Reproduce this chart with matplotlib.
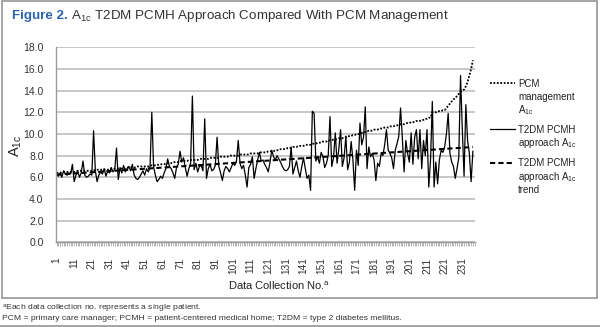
import matplotlib
matplotlib.use("Agg")
import matplotlib.pyplot as plt
import numpy as np
from matplotlib.lines import Line2D
from matplotlib.patches import Rectangle
from matplotlib.ticker import FormatStrFormatter, MultipleLocator

plt.rcParams['font.family'] = ['Liberation Sans', 'DejaVu Sans']
plt.rcParams['mathtext.fontset'] = 'custom'
plt.rcParams['mathtext.rm'] = 'Liberation Sans'
plt.rcParams['mathtext.it'] = 'Liberation Sans:italic'
plt.rcParams['mathtext.bf'] = 'Liberation Sans:bold'

# PCM management A1c (sorted, dotted line)
pcm = [
    6.4, 6.4, 6.4, 6.5, 6.5, 6.5, 6.5, 6.5, 6.5, 6.5,
    6.5, 6.5, 6.6, 6.6, 6.6, 6.6, 6.6, 6.6, 6.6, 6.6,
    6.6, 6.6, 6.7, 6.7, 6.7, 6.7, 6.7, 6.7, 6.7, 6.7,
    6.7, 6.8, 6.8, 6.8, 6.8, 6.8, 6.8, 6.8, 6.8, 6.8,
    6.9, 6.9, 6.9, 6.9, 6.9, 6.9, 7.0, 7.0, 7.0, 7.0,
    7.0, 7.0, 7.0, 7.1, 7.1, 7.1, 7.1, 7.1, 7.2, 7.2,
    7.2, 7.2, 7.3, 7.3, 7.3, 7.3, 7.4, 7.4, 7.4, 7.4,
    7.5, 7.5, 7.5, 7.5, 7.5, 7.6, 7.6, 7.6, 7.6, 7.6,
    7.6, 7.7, 7.7, 7.7, 7.7, 7.7, 7.7, 7.8, 7.8, 7.8,
    7.8, 7.8, 7.8, 7.9, 7.9, 7.9, 7.9, 7.9, 8.0, 8.0,
    8.0, 8.0, 8.0, 8.0, 8.1, 8.1, 8.1, 8.1, 8.1, 8.1,
    8.2, 8.2, 8.2, 8.2, 8.2, 8.3, 8.3, 8.3, 8.3, 8.3,
    8.4, 8.4, 8.4, 8.4, 8.5, 8.5, 8.5, 8.6, 8.6, 8.6,
    8.6, 8.7, 8.7, 8.7, 8.8, 8.8, 8.8, 8.9, 8.9, 8.9,
    8.9, 9.0, 9.0, 9.0, 9.0, 9.1, 9.1, 9.1, 9.2, 9.2,
    9.2, 9.3, 9.3, 9.3, 9.4, 9.4, 9.4, 9.5, 9.5, 9.5,
    9.6, 9.6, 9.6, 9.7, 9.7, 9.8, 9.8, 9.8, 9.9, 9.9,
    10.0, 10.0, 10.0, 10.1, 10.1, 10.2, 10.2, 10.3, 10.3, 10.3,
    10.4, 10.4, 10.4, 10.5, 10.5, 10.5, 10.6, 10.6, 10.6, 10.7,
    10.7, 10.7, 10.8, 10.8, 10.8, 10.9, 10.9, 10.9, 11.0, 11.0,
    11.0, 11.1, 11.1, 11.1, 11.2, 11.2, 11.2, 11.3, 11.3, 11.4,
    11.4, 11.5, 11.5, 12.0, 12.0, 12.0, 12.1, 12.1, 12.1, 12.2,
    12.2, 12.4, 12.6, 12.8, 13.0, 13.2, 13.3, 13.5, 13.7, 13.9,
    14.0, 14.1, 14.4, 14.8, 15.4, 16.0, 16.8,
]

# T2DM PCMH approach A1c (solid line)
t2dm = [
    6.5, 6.1, 6.4, 6.0, 6.6, 6.3, 6.2, 6.4, 6.3, 7.2,
    5.6, 6.2, 6.6, 6.0, 6.4, 7.5, 6.2, 6.0, 6.1, 6.3,
    6.2, 10.3, 6.6, 5.6, 6.2, 6.5, 6.3, 6.8, 6.1, 6.6,
    6.4, 6.9, 6.5, 6.7, 8.7, 5.8, 6.9, 6.4, 7.1, 6.5,
    6.8, 7.0, 6.6, 7.2, 6.2, 5.9, 5.8, 6.0, 6.3, 6.6,
    6.2, 6.8, 6.5, 6.9, 12.0, 7.0, 6.2, 5.6, 5.8, 6.1,
    5.9, 6.4, 6.8, 7.7, 7.0, 6.8, 6.4, 5.9, 6.9, 7.2,
    8.4, 7.4, 7.8, 6.9, 6.1, 6.8, 7.3, 13.5, 6.7, 7.3,
    6.5, 7.0, 7.1, 6.6, 11.4, 5.9, 6.8, 7.2, 6.6, 6.7,
    7.1, 9.7, 7.0, 6.4, 5.7, 6.6, 7.0, 6.8, 6.5, 6.9,
    7.3, 7.1, 7.5, 9.4, 7.3, 6.8, 7.1, 6.2, 5.1, 6.9,
    7.2, 7.9, 5.9, 6.8, 7.6, 8.3, 7.5, 7.6, 7.2, 6.9,
    6.5, 7.4, 8.5, 7.9, 7.6, 8.0, 7.7, 7.4, 7.0, 6.7,
    6.6, 6.7, 7.0, 8.8, 6.3, 6.9, 7.5, 6.6, 6.0, 7.0,
    7.8, 6.8, 5.9, 6.2, 4.8, 12.1, 11.9, 7.5, 7.9, 7.3,
    8.3, 7.9, 6.9, 7.3, 8.0, 11.6, 7.0, 7.8, 10.1, 7.3,
    8.6, 10.4, 7.0, 7.8, 9.8, 6.7, 7.4, 9.3, 7.6, 4.8,
    8.5, 7.1, 11.0, 9.0, 9.7, 12.5, 6.8, 8.8, 7.9, 8.2,
    7.6, 5.7, 7.3, 7.0, 8.2, 8.0, 9.0, 10.4, 8.5, 8.2,
    7.8, 6.8, 8.5, 9.1, 9.8, 12.4, 9.7, 6.5, 9.4, 8.2,
    7.4, 10.1, 7.2, 9.7, 10.4, 7.7, 10.4, 6.8, 9.4, 8.0,
    10.4, 5.1, 7.6, 13.0, 5.1, 7.4, 5.4, 7.6, 8.5, 8.3,
    8.8, 10.0, 11.9, 8.2, 7.4, 7.0, 5.9, 6.8, 7.8, 15.4,
    10.4, 6.1, 12.7, 9.4, 8.2, 5.6, 8.4,
]

x_tick_labels = ['1', '11', '21', '31', '41', '51', '61', '71', '81', '91',
                 '101', '111', '121', '131', '141', '151', '161', '171',
                 '181', '191', '201', '211', '221', '231']
y_ticks = [0, 2, 4, 6, 8, 10, 12, 14, 16, 18]

legend_labels = [['PCM', 'management', 'A$_{\\mathrm{1c}}$'],
                 ['T2DM PCMH', 'approach A$_{\\mathrm{1c}}$'],
                 ['T2DM PCMH', 'approach A$_{\\mathrm{1c}}$', 'trend']]

W, H = 600, 327
fig = plt.figure(figsize=(W / 100, H / 100), dpi=100)


def fx(px):
    return px / W


def fy(py):
    return 1 - py / H


ax = fig.add_axes([fx(56), fy(242.3), fx(475) - fx(56), fy(47.3) - fy(242.3)])

x = np.arange(1, len(t2dm) + 1)
coef = np.polyfit(x, t2dm, 1)
trend = np.polyval(coef, x)

styles = [dict(color='black', lw=1.3, ls=(0, (1, 0.9))),
          dict(color='black', lw=0.9, ls='-'),
          dict(color='black', lw=1.5, ls=(0, (2.5, 1.5)))]

ax.plot(x, pcm, **styles[0])
ax.plot(x, t2dm, **styles[1])
ax.plot(x, trend, **styles[2])

ax.set_ylim(0, 18)
ax.set_yticks(y_ticks)
ax.yaxis.set_major_formatter(FormatStrFormatter('%.1f'))
ax.set_xlim(0.7, 238.2)
xt = [int(s) for s in x_tick_labels]
ax.set_xticks(xt)
ax.set_xticklabels(x_tick_labels, rotation=90)
ax.xaxis.set_minor_locator(MultipleLocator(1))

ax.yaxis.grid(True, color='#b8b8b8', lw=1.1)
ax.set_axisbelow(True)
for s in ['top', 'right']:
    ax.spines[s].set_visible(False)
for s in ['left', 'bottom']:
    ax.spines[s].set_color('#9a9a9a')
    ax.spines[s].set_linewidth(1.0)
ax.tick_params(axis='y', length=0, labelsize=7.5, labelcolor='#333333', pad=9)
ax.tick_params(axis='x', which='both', length=3, width=0.5, color='#9a9a9a',
               labelsize=7.2, labelcolor='#333333', pad=8)

fig.text(fx(16), fy(146), 'A$_{\\mathrm{1c}}$', rotation=90, fontsize=10.5,
         ha='center', va='center', color='#222222')
fig.text(fx(279), fy(286), 'Data Collection No.$^{\\mathrm{a}}$', fontsize=8,
         ha='center', va='center', color='#222222')

# Legend (drawn as figure artists so keys align with first label line)
entry_y = [83, 129, 162.5]
line_step = 13.4
for st, lines, y0 in zip(styles, legend_labels, entry_y):
    fig.add_artist(Line2D([fx(490), fx(515)], [fy(y0), fy(y0)],
                          transform=fig.transFigure, **st))
    for k, txt in enumerate(lines):
        fig.text(fx(518), fy(y0 + k * line_step + 3.6), txt, fontsize=7,
                 ha='left', va='baseline', color='#222222')

# Title
t1 = fig.text(fx(12), fy(16), 'Figure 2.', color='#2b64ad', weight='bold',
              fontsize=9.6, va='center', ha='left')
fig.canvas.draw()
r = fig.canvas.get_renderer()
bb = t1.get_window_extent(r)
fig.text(bb.x1 / W, fy(16), ' A$_{\\mathrm{1c}}$ T2DM PCMH Approach Compared With PCM Management',
         color='#333333', fontsize=9.6, va='center', ha='left')

# Footnotes
fig.text(fx(2), fy(309.5), '$^{\\mathrm{a}}$Each data collection no. represents a single patient.',
         fontsize=6.1, va='center', ha='left', color='#333333')
fig.text(fx(2), fy(318.5), 'PCM = primary care manager; PCMH = patient-centered medical home; '
         'T2DM = type 2 diabetes mellitus.', fontsize=6.1, va='center', ha='left', color='#333333')

# Frame and bottom rule
fig.add_artist(Rectangle((fx(2), fy(298)), fx(597) - fx(2), fy(0.6) - fy(298),
                         transform=fig.transFigure, fill=False,
                         edgecolor='#8c8c8c', lw=1.1))
fig.add_artist(Line2D([0, 1], [fy(326.2), fy(326.2)], transform=fig.transFigure,
                      color='#8c8c8c', lw=1.1))

fig.savefig('out.png', dpi=100)
